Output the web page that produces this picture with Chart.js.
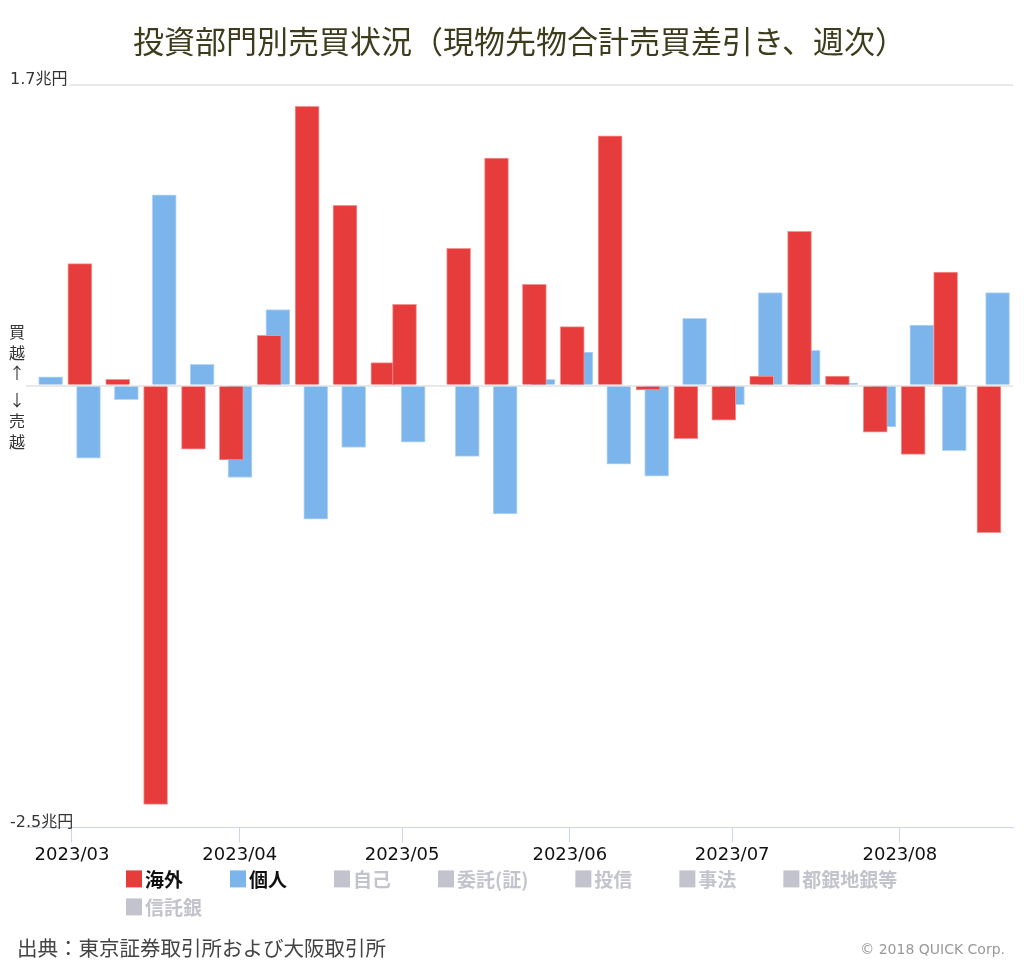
<!DOCTYPE html>
<html>
<head>
<meta charset="utf-8">
<script src="https://cdn.jsdelivr.net/npm/chart.js@4.4.0/dist/chart.umd.min.js"></script>
<style>
html,body{margin:0;padding:0;background:#fff;}
#wrap{position:relative;width:1024px;height:964px;}
#source{position:absolute;left:17px;top:932px;font:20.5px "Noto Sans CJK JP";color:#444;white-space:nowrap;}
#copy{position:absolute;right:19px;top:941px;font:14px "DejaVu Sans",sans-serif;color:#999;white-space:nowrap;}
</style>
</head>
<body>
<div id="wrap">
<canvas id="chart" width="1024" height="964"></canvas>
<div id="source">出典：東京証券取引所および大阪取引所</div>
<div id="copy">© 2018 QUICK Corp.</div>
</div>
<script>
// 週次（週末の取引日）
const weeks=["2023-02-24","2023-03-03","2023-03-10","2023-03-17","2023-03-24","2023-03-31",
"2023-04-07","2023-04-14","2023-04-21","2023-04-28","2023-05-02","2023-05-12","2023-05-19",
"2023-05-26","2023-06-02","2023-06-09","2023-06-16","2023-06-23","2023-06-30","2023-07-07",
"2023-07-14","2023-07-21","2023-07-28","2023-08-04","2023-08-10","2023-08-18"];

// 兆円
const kaigai=[null,0.69,0.035,-2.37,-0.36,-0.42,0.285,1.58,1.02,0.13,0.46,0.777,1.287,
0.573,0.334,1.413,-0.024,-0.30,-0.195,0.054,0.873,0.054,-0.264,-0.389,0.643,-0.832];
const kojin=[0.05,-0.41,-0.08,1.08,0.12,-0.52,0.43,-0.756,-0.35,0,-0.32,-0.40,-0.726,
0.035,0.19,-0.445,-0.513,0.381,-0.108,0.527,0.199,0.014,-0.234,0.343,-0.368,0.527];

const seriesNames=["海外","個人","自己","委託(証)","投信","事法","都銀地銀等","信託銀"];
const seriesColors=["#e73c3c","#7cb5ec"];
const monthTicks=["2023-03-01","2023-04-01","2023-05-01","2023-06-01","2023-07-01","2023-08-01"];
const yMin=-2.5, yMax=1.7;

const base=Date.parse("2023-03-01");
const day=d=>(Date.parse(d)-base)/864e5;
const jp='"Noto Sans CJK JP", "Noto Sans", sans-serif';
const num='"DejaVu Sans", "Noto Sans CJK JP", sans-serif';

function pts(vals,shift){
  const out=[];
  weeks.forEach((w,i)=>{ if(vals[i]!==null) out.push({x:day(w)+shift,y:vals[i]}); });
  return out;
}

const decor={
  id:"decor",
  afterDraw(chart){
    const ctx=chart.ctx, ys=chart.scales.y, ca=chart.chartArea;
    ctx.save();
    // y labels
    ctx.font="16px "+num;
    ctx.textBaseline="bottom";
    ctx.textAlign="left";
    const top=ys.getPixelForValue(yMax), bot=ys.getPixelForValue(yMin);
    const t1=yMax+"兆円", t2=yMin+"兆円";
    ctx.fillStyle="#fff";
    ctx.fillRect(ca.left,top-4,ctx.measureText(t1).width-14,6);
    ctx.fillStyle="#333";
    ctx.fillText(t1,10,top+3);
    ctx.fillText(t2,10,bot+3);
    // 買越 / 売越
    ctx.font="16px "+jp;
    const z=ys.getPixelForValue(0);
    ctx.textAlign="center";
    ctx.textBaseline="middle";
    const chars=[["買",-54],["越",-33],["↑",-13],["↓",14],["売",35],["越",56]];
    chars.forEach(c=>ctx.fillText(c[0],17,z+c[1]));
    // legend
    ctx.font="bold 19px "+jp;
    ctx.textAlign="left";
    const items=seriesNames.map((n,i)=>({n,c:seriesColors[i]||"#c3c3cd",on:i<seriesColors.length,w:19+ctx.measureText(n).width}));
    const gap=47, maxW=820;
    const rows=[[]]; let rw=0;
    items.forEach(it=>{
      const row=rows[rows.length-1];
      const add=(row.length?gap:0)+it.w;
      if(row.length&&rw+add>maxW){rows.push([it]);rw=it.w;}
      else{row.push(it);rw+=add;}
    });
    const w0=rows[0].reduce((s,it)=>s+it.w,0)+gap*(rows[0].length-1);
    const x0=Math.round((chart.width-w0)/2);
    rows.forEach((row,r)=>{
      let x=x0; const y=ca.bottom+51+r*28;
      row.forEach(it=>{
        ctx.fillStyle=it.c;
        ctx.fillRect(x,y-8,16,17);
        ctx.fillStyle=it.on?"#111":"#c3c3cd";
        ctx.fillText(it.n,x+19,y+1);
        x+=it.w+gap;
      });
    });
    ctx.restore();
  }
};

new Chart(document.getElementById("chart"),{
  type:"bar",
  data:{
    datasets:[{
      label:seriesNames[0],
      data:pts(kaigai,-0.55),
      backgroundColor:seriesColors[0],
      borderColor:"#f29494",
      borderWidth:1,
      barThickness:24,
      grouped:false
    },{
      label:seriesNames[1],
      data:pts(kojin,1.05),
      backgroundColor:seriesColors[1],
      borderColor:"#b8d6f5",
      borderWidth:1,
      barThickness:24,
      grouped:false
    }]
  },
  options:{
    responsive:false,
    animation:false,
    layout:{padding:{left:26,right:11,top:0,bottom:96}},
    plugins:{
      legend:{display:false},
      tooltip:{enabled:false},
      title:{
        display:true,
        text:"投資部門別売買状況（現物先物合計売買差引き、週次）",
        color:"#3d3d1e",
        font:{family:jp,size:31,weight:"normal"},
        padding:{top:23,bottom:25}
      }
    },
    scales:{
      x:{
        type:"linear",
        min:-8.5,
        max:173.9,
        offset:false,
        afterBuildTicks:s=>{ s.ticks=monthTicks.map(d=>({value:day(d)})); },
        ticks:{
          autoSkip:false,
          maxRotation:0,
          padding:2,
          color:"#111",
          font:{family:num,size:18},
          callback:(v,i)=>monthTicks[i].slice(0,7).replace("-","/")
        },
        grid:{drawOnChartArea:false,offset:false,tickLength:15,color:"#ccd6eb"},
        border:{color:"#ccd6eb"}
      },
      y:{
        min:yMin,
        max:yMax,
        afterBuildTicks:s=>{ s.ticks=[yMin,0,yMax].map(v=>({value:v})); },
        ticks:{display:false},
        grid:{drawTicks:false,lineWidth:2,color:c=>c.tick&&c.tick.value===yMin?"rgba(0,0,0,0)":"#e8e8e8"},
        border:{display:false}
      }
    }
  },
  plugins:[decor]
});
</script>
</body>
</html>
